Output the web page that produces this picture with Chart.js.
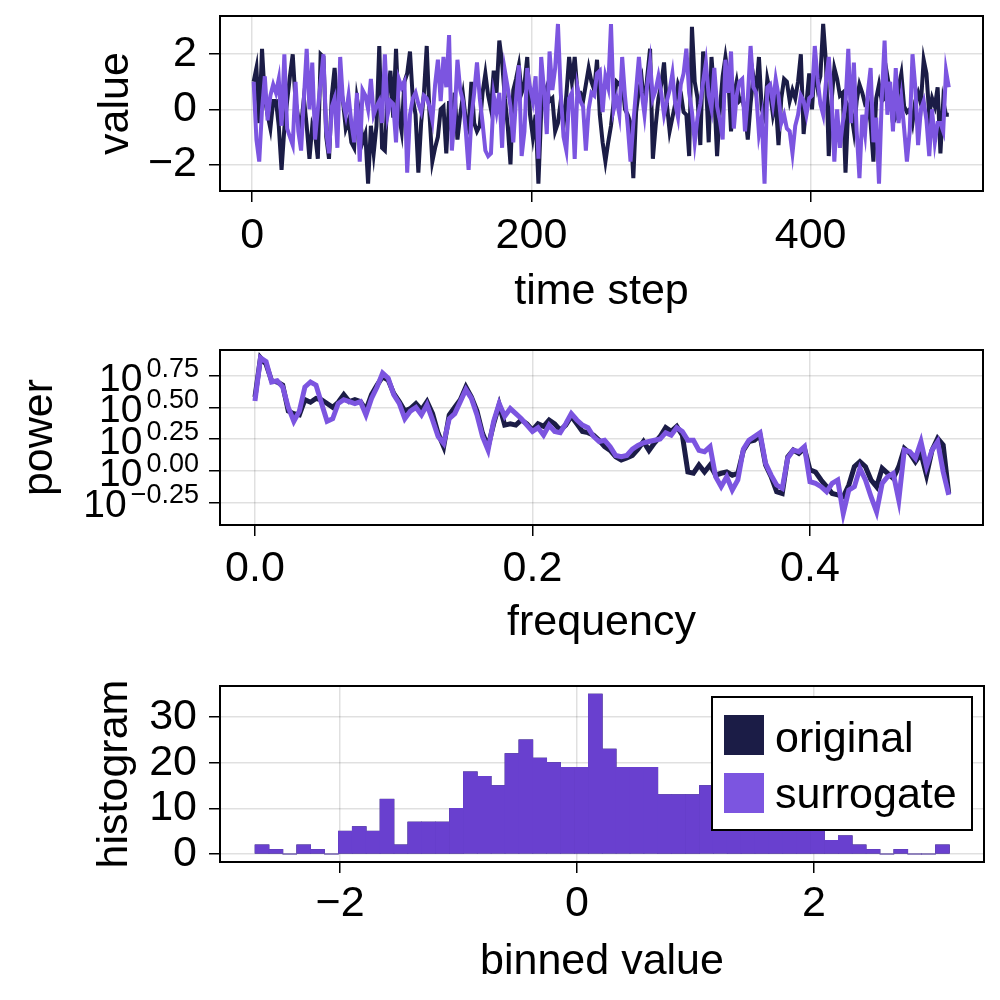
<!DOCTYPE html>
<html>
<head>
<meta charset="utf-8">
<script src="https://cdn.jsdelivr.net/npm/chart.js@4.4.1/dist/chart.umd.min.js"></script>
<style>
  html, body { margin: 0; padding: 0; background: #fff; }
  #wrap { position: relative; width: 1000px; height: 1000px; }
  canvas { position: absolute; left: 0; }
</style>
</head>
<body>
<div id="wrap">
  <canvas id="series-chart" width="1000" height="333" style="top:0px"></canvas>
  <canvas id="spectrum-chart" width="1000" height="333" style="top:333px"></canvas>
  <canvas id="hist-chart" width="1000" height="334" style="top:666px"></canvas>
</div>
<script>
// ---- data ----
const seriesNames = ['original', 'surrogate'];

// every second time step (1, 3, 5, ... 499)
const timeSteps = Array.from({ length: 250 }, (_, i) => 2 * i + 1);

const originalValues = [
  1.0, 1.5, -0.5, 2.2, 0.4, -0.2, -0.7, 0.3, 0.3, -0.6, -2.2, -0.7, 0.3, 1.2, 2.0, 0.3, -0.3, -0.6, 0.4, -0.6, -1.8, -0.6, -0.9, -1.8, 2.0,
  1.9, -1.0, -1.8, 0.5, 1.5, 0.0, 0.9, 0.3, -0.7, -0.4, -1.2, -1.4, 0.4, -0.2, -1.2, -0.9, -2.7, -0.6, -1.6, -0.6, 2.3, -1.4, -1.5, 0.6, 1.4,
  -0.3, 2.2, -0.2, -0.8, 1.0, 1.3, 2.1, 0.4, -0.2, -2.3, -0.5, 0.6, 2.3, -0.2, -1.9, -1.4, -1.0, 0.0, 0.1, -1.6, 0.3, -0.8, 0.6, -1.1, -0.2,
  0.5, -0.4, -0.7, 1.0, -0.5, -0.8, -0.6, 0.6, 1.3, 0.5, 0.0, 1.4, 0.6, 2.5, 1.7, 0.4, -0.6, -2.0, 0.7, 1.1, 1.6, 0.6, 0.9, 1.9, -0.2,
  -1.0, -0.2, -2.7, -0.1, 0.5, 0.8, 0.3, 0.4, -0.8, -0.5, 0.3, -0.6, 0.5, 1.9, 1.0, 1.9, 0.6, 0.6, 0.3, 0.9, 1.5, 1.0, 0.7, 1.8, -0.2,
  -1.2, -1.9, -1.2, -0.6, 0.3, 1.0, 0.9, 1.1, 0.0, -0.2, -0.5, -2.5, -0.1, 0.7, 1.1, 0.0, 1.2, 2.2, -1.8, -0.6, 0.4, 0.9, 1.7, 0.2, -0.8,
  -0.3, 0.2, 0.9, 0.6, -0.1, -0.2, -1.7, 3.0, 1.0, 0.4, -1.3, 2.1, 1.0, -1.2, 1.9, 0.5, -1.7, 0.0, 1.2, 1.9, 1.2, -0.8, 0.5, 1.0, 0.3,
  0.4, -0.1, -1.1, 0.2, 1.2, 0.6, 1.9, 0.0, -0.3, 1.1, 0.6, -0.2, 0.3, -1.3, 0.4, 1.1, 1.0, 0.3, 0.7, 0.4, 1.0, 2.0, -0.9, 0.2, 1.3,
  0.0, 1.6, 0.8, 1.2, 3.1, 1.7, -1.7, 0.3, 1.5, 1.1, 0.5, 0.6, -2.3, 0.1, -0.1, -0.8, 0.3, 0.9, 0.6, 0.2, 0.3, -0.5, -1.9, 0.4, 0.9,
  0.3, 0.4, 1.2, 0.6, -0.5, -0.3, 0.8, 1.3, 0.1, -0.1, 0.0, -0.5, 0.3, 0.6, 0.2, 1.8, 1.3, -0.2, 0.4, 0.1, 0.8, -1.6, 0.3, -0.2, -0.2
];

const surrogateValues = [
  1.0, -1.1, -1.9, 0.0, 1.2, -0.4, 0.5, 0.9, 0.6, 1.1, -0.6, 2.0, -0.7, -1.0, -1.3, 1.0, -0.8, -1.5, 0.4, 2.2, 0.0, 1.7, -1.1, 0.0, 1.0,
  2.0, -0.8, -1.6, 0.1, 0.4, -1.4, 1.9, 0.3, -0.2, 0.5, -0.5, -1.2, 0.6, -1.9, 0.7, 0.5, 0.0, 1.1, -0.2, 0.1, 0.3, -0.5, 2.0, -0.2, 0.3,
  0.2, -1.2, 1.1, 0.8, 1.0, -2.3, -0.2, 0.4, 0.6, 0.2, -0.1, 0.5, 0.4, 0.1, -0.4, 0.9, 1.8, 0.3, 1.9, 0.8, 2.7, -1.5, -0.2, 1.8, 0.7,
  0.3, -0.8, -2.2, -0.3, 0.6, 1.7, 0.4, -0.5, -1.5, -1.7, -1.6, 0.5, -0.1, 0.6, -1.4, 1.4, 0.8, 0.1, -1.2, 0.4, 1.6, -1.7, -0.8, 1.5, 0.8,
  0.3, 1.2, -1.8, 1.9, 0.7, -0.9, 2.1, 0.7, 1.5, 3.1, 0.6, -1.0, -1.5, 0.4, 0.6, -1.8, 0.8, 0.3, 0.1, -1.5, 0.0, 0.6, 0.5, 1.3, 1.4,
  -0.1, 1.2, 0.8, 3.1, 0.0, 0.4, -0.2, 1.9, 0.5, -0.6, -1.9, -0.5, 0.7, 1.9, 0.6, -0.2, 0.9, 1.7, 0.4, 0.7, 1.2, 0.6, -0.2, 0.3, 0.7,
  1.3, 0.2, -0.3, 0.9, 1.3, 2.2, 0.6, -0.1, -1.2, -0.3, 0.2, 1.0, 1.7, 0.5, 0.0, 1.5, 0.1, -0.4, -1.1, 1.8, 0.6, 2.1, -0.7, 0.5, 1.0,
  1.1, -0.8, 0.4, 2.3, 0.8, 0.6, -0.9, -0.3, -2.7, 0.8, 0.9, 0.2, 1.1, 0.5, -0.5, -0.2, -0.7, -0.8, -1.6, -0.6, -0.2, 0.5, 0.3, -0.2, 0.4,
  0.5, 2.3, 1.1, 0.2, -0.2, 1.0, 1.9, 0.5, -1.9, 0.0, -1.4, -0.5, 0.2, 2.2, -0.5, 1.7, -0.8, -2.5, -0.2, -0.9, 0.6, 1.5, -1.2, -0.3, -2.7,
  0.4, 2.5, -0.2, 1.0, -0.8, 1.5, -0.5, 0.4, -0.7, -1.9, -0.8, 2.0, 0.8, -1.3, 0.0, 0.3, -0.4, -1.7, 0.0, -1.2, -0.5, -0.5, -0.8, 1.4, 0.8
];

// spectrum, stored as log10(power), sampled every 0.004 in frequency
const frequencies = Array.from({ length: 126 }, (_, i) => i * 0.004);

const logPowerOriginal = [
  0.58, 0.89, 0.84, 0.71, 0.70, 0.675, 0.47, 0.45, 0.44, 0.56,
  0.54, 0.57, 0.56, 0.53, 0.50, 0.54, 0.60, 0.545, 0.56, 0.545,
  0.48, 0.60, 0.675, 0.74, 0.715, 0.61, 0.545, 0.47, 0.49, 0.53,
  0.48, 0.545, 0.45, 0.295, 0.19, 0.44, 0.50, 0.56, 0.66, 0.58,
  0.47, 0.295, 0.19, 0.37, 0.52, 0.36, 0.37, 0.36, 0.40, 0.37,
  0.32, 0.37, 0.35, 0.40, 0.37, 0.32, 0.36, 0.43, 0.37, 0.31,
  0.30, 0.28, 0.24, 0.19, 0.16, 0.11, 0.085, 0.10, 0.12, 0.17,
  0.23, 0.16, 0.22, 0.27, 0.34, 0.31, 0.35, 0.28, -0.01, -0.02,
  0.045, -0.01, 0.045, -0.035, -0.02, -0.01, -0.035, -0.02, 0.16, 0.23,
  0.24, 0.28, 0.045, -0.047, -0.165, -0.179, 0.11, 0.163, 0.137, 0.176,
  0.006, -0.01, -0.073, -0.126, -0.179, -0.19, -0.205, -0.113, 0.032, 0.071,
  0.032, -0.073, -0.126, 0.019, -0.021, -0.06, 0.032, 0.176, 0.137, 0.071,
  0.137, -0.035, 0.163, 0.255, 0.203, -0.179
];

const logPowerSurrogate = [
  0.55, 0.89, 0.86, 0.70, 0.71, 0.66, 0.50, 0.39, 0.47, 0.66,
  0.70, 0.675, 0.53, 0.39, 0.41, 0.53, 0.56, 0.545, 0.53, 0.545,
  0.44, 0.57, 0.66, 0.77, 0.73, 0.60, 0.53, 0.41, 0.47, 0.50,
  0.44, 0.52, 0.40, 0.27, 0.216, 0.41, 0.45, 0.545, 0.64, 0.57,
  0.44, 0.27, 0.163, 0.39, 0.53, 0.43, 0.49, 0.45, 0.41, 0.36,
  0.31, 0.34, 0.28, 0.36, 0.31, 0.30, 0.37, 0.45, 0.40, 0.36,
  0.34, 0.27, 0.23, 0.24, 0.19, 0.12, 0.11, 0.12, 0.17, 0.20,
  0.22, 0.23, 0.24, 0.25, 0.30, 0.28, 0.34, 0.31, 0.24, 0.24,
  0.16, 0.15, 0.19, -0.047, -0.126, -0.047, -0.152, -0.073, 0.17, 0.24,
  0.27, 0.30, 0.058, -0.035, -0.113, -0.139, 0.10, 0.163, 0.15, 0.19,
  -0.087, -0.10, -0.126, -0.165, -0.10, -0.073, -0.337, -0.152, -0.126, 0.019,
  -0.073, -0.205, -0.323, -0.10, -0.047, -0.021, -0.231, 0.163, 0.15, 0.098,
  0.229, 0.032, 0.163, 0.229, -0.008, -0.19
];

// histogram: 50 bins
const binStart = -2.717;
const binWidth = 0.1172;
const histCounts = [
  2, 1, 0, 2, 1, 0, 5, 6, 5, 12, 2, 7, 7, 7, 10, 18, 17, 15, 22, 25, 21, 20, 19, 19, 35,
  23, 19, 19, 19, 13, 13, 13, 15, 14, 12, 11, 10, 9, 8, 6, 5, 3, 4, 2, 1, 0, 1, 0, 0, 2
];

// tick labels
const seriesXTicks = [0, 200, 400];
const seriesYTicks = [-2, 0, 2];
const freqTicks = [0, 0.2, 0.4];
const powerTicks = [-0.25, 0, 0.25, 0.5, 0.75];
const histXTicks = [-2, 0, 2];
const histYTicks = [0, 10, 20, 30];

// ---- styling ----
const FONT = "'Liberation Sans', Arial, Helvetica, sans-serif";
const ORIGINAL_COLOR = '#1b1c46';
const SURROGATE_COLOR = '#7c55e0';
const HIST_COLOR = '#6940cf';
const GRID_COLOR = 'rgba(0,0,0,0.12)';

function minus(s) {
  return String(s).replace('-', '\u2212');
}

function fixedTicks(values) {
  return function (scale) {
    scale.ticks = values.map(v => ({ value: v }));
  };
}

function pairs(xs, ys) {
  return ys.map((y, i) => ({ x: xs[i], y: y }));
}

const framePlugin = {
  id: 'frame',
  afterDraw(chart) {
    const a = chart.chartArea;
    const ctx = chart.ctx;
    ctx.save();
    ctx.strokeStyle = '#000';
    ctx.lineWidth = 2;
    ctx.strokeRect(a.left, a.top, a.right - a.left, a.bottom - a.top);
    ctx.restore();
  }
};

function xAxis(o) {
  return {
    type: 'linear',
    min: o.min,
    max: o.max,
    offset: false,
    afterBuildTicks: fixedTicks(o.ticks),
    afterFit: s => {
      s.height = o.height;
      s.paddingLeft = 0;
      s.paddingRight = 0;
    },
    border: { display: false },
    grid: { offset: false, color: GRID_COLOR, lineWidth: 1.5, tickColor: '#000', tickLength: 11, tickWidth: 1.5 },
    ticks: {
      color: '#000',
      font: { family: FONT, size: 43 },
      padding: o.pad,
      maxRotation: 0,
      autoSkip: false,
      callback: o.label
    },
    title: {
      display: true,
      text: o.title,
      color: '#000',
      font: { family: FONT, size: 43 },
      padding: { top: 0, bottom: o.titlePad }
    }
  };
}

function yAxis(o) {
  return {
    type: 'linear',
    min: o.min,
    max: o.max,
    afterBuildTicks: fixedTicks(o.ticks),
    afterFit: s => {
      s.width = 220;
      s.paddingTop = 0;
      s.paddingBottom = 0;
    },
    border: { display: false },
    grid: { color: GRID_COLOR, lineWidth: 1.5, tickColor: '#000', tickLength: 11, tickWidth: 1.5 },
    ticks: {
      color: '#000',
      font: { family: FONT, size: 43 },
      padding: 12,
      autoSkip: false,
      callback: o.label
    },
    title: {
      display: true,
      text: o.title,
      color: '#000',
      font: { family: FONT, size: 43 },
      padding: { top: o.titlePad, bottom: 0 }
    }
  };
}

const baseOptions = {
  responsive: false,
  animation: false,
  devicePixelRatio: 1,
  events: [],
  plugins: { legend: { display: false }, tooltip: { enabled: false } }
};

// ---- panel 1: time series ----
new Chart(document.getElementById('series-chart').getContext('2d'), {
  type: 'line',
  data: {
    datasets: [{
      label: seriesNames[0],
      data: pairs(timeSteps, originalValues),
      borderColor: ORIGINAL_COLOR,
      borderWidth: 4,
      pointRadius: 0,
      tension: 0,
      order: 1
    }, {
      label: seriesNames[1],
      data: pairs(timeSteps, surrogateValues),
      borderColor: SURROGATE_COLOR,
      borderWidth: 4,
      pointRadius: 0,
      tension: 0,
      order: 0
    }]
  },
  options: Object.assign({}, baseOptions, {
    layout: { padding: { top: 16, right: 17, left: 0, bottom: 0 } },
    scales: {
      x: xAxis({ min: -23.1, max: 523.5, ticks: seriesXTicks, height: 142, pad: 8, title: 'time step', titlePad: 15, label: v => String(v) }),
      y: yAxis({ min: -2.97, max: 3.39, ticks: seriesYTicks, title: 'value', titlePad: 90, label: v => minus(v) })
    }
  }),
  plugins: [framePlugin]
});

// ---- panel 2: power spectrum ----
const powerLabelPlugin = {
  id: 'powerLabels',
  afterDraw(chart) {
    const ys = chart.scales.y;
    const ctx = chart.ctx;
    const right = chart.chartArea.left - 21;
    ctx.save();
    ctx.fillStyle = '#000';
    ctx.textAlign = 'right';
    ctx.textBaseline = 'alphabetic';
    powerTicks.forEach(v => {
      const y = ys.getPixelForValue(v);
      const exp = minus(v.toFixed(2));
      ctx.font = '27px ' + FONT;
      ctx.fillText(exp, right, y + 1);
      const w = ctx.measureText(exp).width;
      ctx.font = '39px ' + FONT;
      ctx.fillText('10', right - w - 4, y + 15);
    });
    ctx.restore();
  }
};

new Chart(document.getElementById('spectrum-chart').getContext('2d'), {
  type: 'line',
  data: {
    datasets: [{
      label: seriesNames[0],
      data: pairs(frequencies, logPowerOriginal),
      borderColor: ORIGINAL_COLOR,
      borderWidth: 5,
      pointRadius: 0,
      tension: 0,
      order: 1
    }, {
      label: seriesNames[1],
      data: pairs(frequencies, logPowerSurrogate),
      borderColor: SURROGATE_COLOR,
      borderWidth: 5,
      pointRadius: 0,
      tension: 0,
      order: 0
    }]
  },
  options: Object.assign({}, baseOptions, {
    layout: { padding: { top: 17, right: 17, left: 0, bottom: 0 } },
    scales: {
      x: xAxis({ min: -0.0252, max: 0.5247, ticks: freqTicks, height: 141, pad: 7, title: 'frequency', titlePad: 17, label: v => v.toFixed(1) }),
      y: yAxis({ min: -0.428, max: 0.952, ticks: powerTicks, title: 'power', titlePad: 14, label: () => '' })
    }
  }),
  plugins: [framePlugin, powerLabelPlugin]
});

// ---- panel 3: histogram ----
const binCenters = histCounts.map((_, i) => binStart + (i + 0.5) * binWidth);
const legendColors = [ORIGINAL_COLOR, SURROGATE_COLOR];

const boxLegendPlugin = {
  id: 'boxLegend',
  afterDraw(chart) {
    const a = chart.chartArea;
    const ctx = chart.ctx;
    const w = 260, h = 133;
    const left = a.right - 12 - w, top = a.top + 11;
    ctx.save();
    ctx.fillStyle = '#fff';
    ctx.fillRect(left, top, w, h);
    ctx.strokeStyle = '#000';
    ctx.lineWidth = 2;
    ctx.strokeRect(left, top, w, h);
    ctx.font = '43px ' + FONT;
    ctx.textBaseline = 'alphabetic';
    ctx.textAlign = 'left';
    seriesNames.forEach((name, i) => {
      ctx.fillStyle = legendColors[i];
      ctx.fillRect(left + 12, top + 18 + i * 58, 40, 40);
      ctx.fillStyle = '#000';
      ctx.fillText(name, left + 63, top + 55 + i * 56);
    });
    ctx.restore();
  }
};

new Chart(document.getElementById('hist-chart').getContext('2d'), {
  type: 'bar',
  data: {
    datasets: [{
      label: seriesNames[0],
      data: pairs(binCenters, histCounts),
      backgroundColor: ORIGINAL_COLOR,
      barPercentage: 1,
      categoryPercentage: 1,
      grouped: false,
      order: 1
    }, {
      label: seriesNames[1],
      data: pairs(binCenters, histCounts),
      backgroundColor: HIST_COLOR,
      barPercentage: 1,
      categoryPercentage: 1,
      grouped: false,
      order: 0
    }]
  },
  options: Object.assign({}, baseOptions, {
    layout: { padding: { top: 20, right: 16, left: 0, bottom: 0 } },
    scales: {
      x: xAxis({ min: -3.013, max: 3.435, ticks: histXTicks, height: 138, pad: 5, title: 'binned value', titlePad: 12, label: v => minus(v) }),
      y: yAxis({ min: -1.75, max: 36.79, ticks: histYTicks, title: 'histogram', titlePad: 89, label: v => String(v) })
    }
  }),
  plugins: [framePlugin, boxLegendPlugin]
});
</script>
</body>
</html>
